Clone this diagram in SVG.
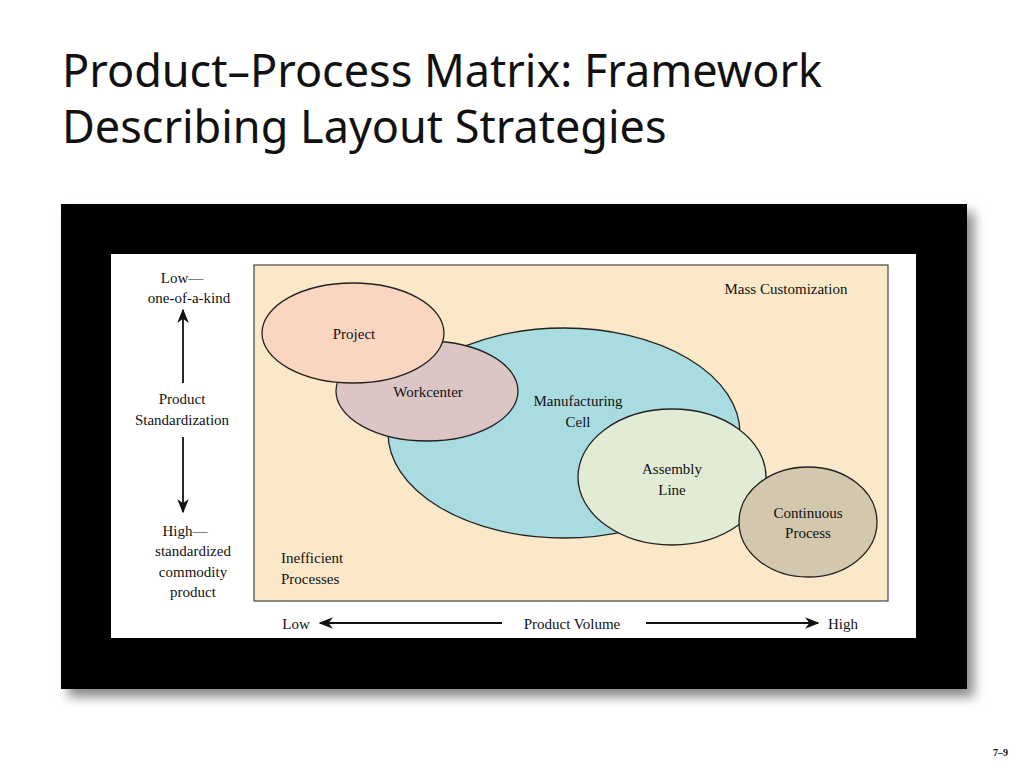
<svg xmlns="http://www.w3.org/2000/svg" width="1024" height="768" viewBox="0 0 1024 768">
<defs>
<style>
.t{font-family:"Liberation Serif",serif;font-size:15px;fill:#111;text-anchor:middle}
.e{stroke:#222;stroke-width:1.3}
</style>
<filter id="sh" x="-5%" y="-5%" width="115%" height="120%"><feGaussianBlur stdDeviation="6"/></filter>
<marker id="ah" viewBox="0 0 10 10" refX="9" refY="5" markerWidth="8" markerHeight="8" orient="auto-start-reverse"><path d="M0,1 L10,5 L0,9 L3,5 z" fill="#111"/></marker>
</defs>
<rect width="1024" height="768" fill="#fff"/>
<text font-family="'Noto Sans','Open Sans',sans-serif" font-size="45" fill="#111"><tspan x="62" y="87">Product–Process Matrix: Framework</tspan><tspan x="62" y="143">Describing Layout Strategies</tspan></text>
<rect x="68" y="212" width="906" height="485" fill="#888" filter="url(#sh)"/>
<rect x="61" y="204" width="906" height="485" fill="#000"/>
<rect x="111" y="254" width="805" height="384" fill="#fff"/>
<rect x="254" y="265" width="634" height="336" fill="#fbe8c8" stroke="#444" stroke-width="1.2"/>
<g id="mfg"><ellipse class="e" cx="564" cy="433" rx="176" ry="105" fill="#a9dce0"/><text class="t" x="578" y="406">Manufacturing</text><text class="t" x="578" y="427">Cell</text></g>
<g id="workcenter"><ellipse class="e" cx="427" cy="391" rx="91" ry="50" fill="#dcc5c5"/><text class="t" x="428" y="397">Workcenter</text></g>
<g id="project"><ellipse class="e" cx="353" cy="333" rx="91" ry="50" fill="#fad6c0"/><text class="t" x="354" y="339">Project</text></g>
<g id="assembly"><ellipse class="e" cx="672" cy="477" rx="94" ry="68" fill="#e2ecd5"/><text class="t" x="672" y="474">Assembly</text><text class="t" x="672" y="495">Line</text></g>
<g id="continuous"><ellipse class="e" cx="808" cy="522" rx="69" ry="55" fill="#d3c7ae"/><text class="t" x="808" y="518">Continuous</text><text class="t" x="808" y="538">Process</text></g>
<g id="labels">
<text class="t" x="786" y="294">Mass Customization</text>
<text class="t" x="281" y="563" style="text-anchor:start">Inefficient</text>
<text class="t" x="281" y="584" style="text-anchor:start">Processes</text>
<text class="t" x="182" y="283">Low—</text>
<text class="t" x="189" y="303">one-of-a-kind</text>
<text class="t" x="182" y="404">Product</text>
<text class="t" x="182" y="425">Standardization</text>
<text class="t" x="185" y="536">High—</text>
<text class="t" x="193" y="556">standardized</text>
<text class="t" x="193" y="577">commodity</text>
<text class="t" x="193" y="597">product</text>
<text class="t" x="296" y="629">Low</text>
<text class="t" x="572" y="629">Product Volume</text>
<text class="t" x="843" y="629">High</text>
</g>
<g id="connectors" stroke="#111" stroke-width="1.8" fill="none">
<line x1="183" y1="383" x2="183" y2="310" marker-end="url(#ah)"/>
<line x1="183" y1="437" x2="183" y2="512" marker-end="url(#ah)"/>
<line x1="502" y1="623" x2="320" y2="623" marker-end="url(#ah)"/>
<line x1="646" y1="623" x2="818" y2="623" marker-end="url(#ah)"/>
</g>
<text x="1008" y="756" font-family="'Liberation Serif',serif" font-size="10" font-weight="bold" text-anchor="end" fill="#111">7–9</text>
</svg>
